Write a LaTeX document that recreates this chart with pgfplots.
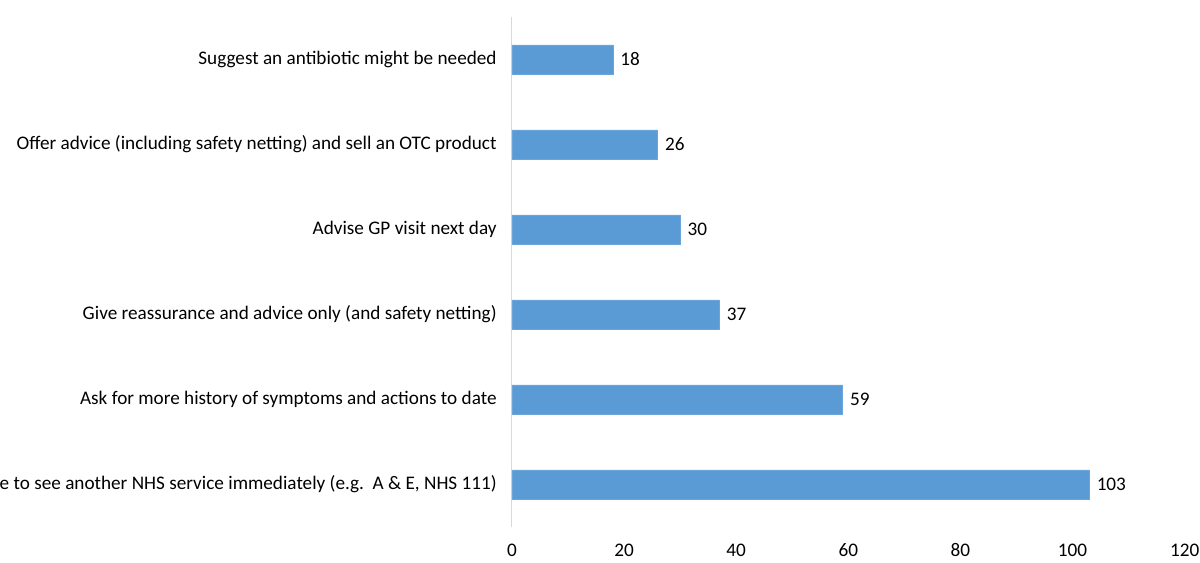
\documentclass[border=0pt]{standalone}
\usepackage{pgfplots}
\pgfplotsset{compat=1.18}
\usepackage{fontspec}
\setmainfont{Carlito}
\definecolor{barblue}{HTML}{5B9BD5}
\definecolor{axgray}{HTML}{D9D9D9}
\begin{document}
\begin{tikzpicture}[x=0.75pt,y=0.75pt]
\useasboundingbox (0,0) rectangle (1200,563);
\clip (0,0) rectangle (1200,563);
\begin{axis}[
  at={(384pt,27pt)}, anchor=south west,
  scale only axis,
  width=504.5pt, height=382.5pt,
  xmin=0, xmax=120,
  ymin=0.5, ymax=6.5,
  xtick={0,20,40,60,80,100,120},
  ytick={1,2,3,4,5,6},
  yticklabels={Advise to see another NHS service immediately (e.g.\ \ A \& E{,} NHS 111),
    Ask for more history of symptoms and actions to date,
    Give reassurance and advice only (and safety netting),
    Advise GP visit next day,
    Offer advice (including safety netting) and sell an OTC product,
    Suggest an antibiotic might be needed},
  axis x line*=bottom, axis y line*=left,
  x axis line style={draw=none},
  y axis line style={draw=axgray, line width=0.75pt},
  major tick length=0pt,
  tick label style={font=\fontsize{14.4}{16}\selectfont, text=black},
  yticklabel style={xshift=-8pt},
  xticklabel style={yshift=-9pt},
  /pgf/number format/assume math mode=true,
  xbar, bar width=22pt,
  nodes near coords,
  nodes near coords style={font=\fontsize{14.4}{16}\selectfont, anchor=west, xshift=2pt},
  clip=false,
]
\addplot[fill=barblue, draw=barblue!90!white] coordinates {
  (103,1) (59,2) (37,3) (30,4) (26,5) (18,6)
};
\end{axis}
\end{tikzpicture}
\end{document}
